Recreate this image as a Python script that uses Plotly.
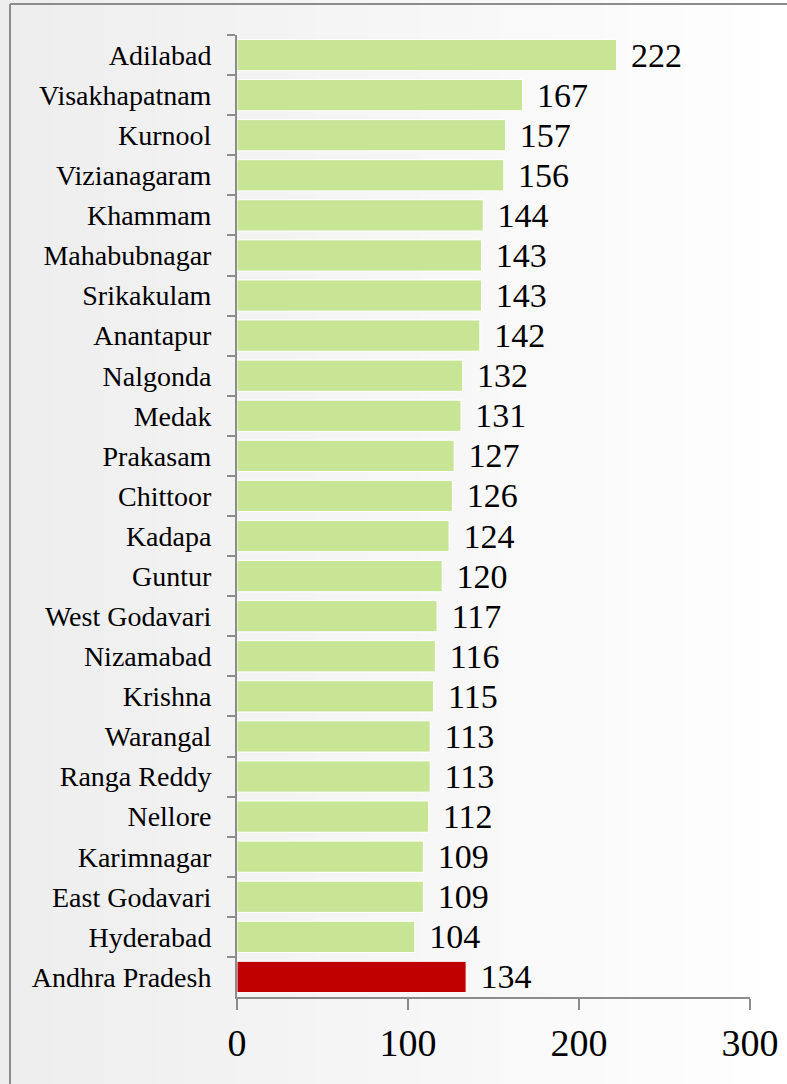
import plotly.graph_objects as go

districts = ["Adilabad", "Visakhapatnam", "Kurnool", "Vizianagaram", "Khammam",
             "Mahabubnagar", "Srikakulam", "Anantapur", "Nalgonda", "Medak",
             "Prakasam", "Chittoor", "Kadapa", "Guntur", "West Godavari",
             "Nizamabad", "Krishna", "Warangal", "Ranga Reddy", "Nellore",
             "Karimnagar", "East Godavari", "Hyderabad", "Andhra Pradesh"]
values = [222, 167, 157, 156, 144, 143, 143, 142, 132, 131, 127, 126, 124, 120,
          117, 116, 115, 113, 113, 112, 109, 109, 104, 134]
x_ticks = [0, 100, 200, 300]

GREEN = "#c7e595"
RED = "#c00000"
colors = [RED if d == "Andhra Pradesh" else GREEN for d in districts]

W, H = 787, 1084
ML, MR, MT, MB = 237, 37, 35, 87
pw = W - ML - MR
ph = H - MT - MB

fig = go.Figure()
fig.add_trace(go.Bar(
    y=districts, x=values, orientation="h",
    marker=dict(color=colors, line=dict(color="white", width=1)),
    width=0.78,
    text=["\u00a0\u200a" + str(v) for v in values],
    textposition="outside",
    constraintext="none",
    textfont=dict(family="Liberation Serif", size=34, color="black"),
    cliponaxis=False,
))

# background gradient strips and frame
shapes = []
n = 30
for i in range(n):
    x0 = i / n * W
    x1 = (i + 1) / n * W
    g = int(238 + (255 - 238) * (i / (n - 1)))
    shapes.append(dict(type="rect", xref="paper", yref="paper",
                       x0=(x0 - ML) / pw, x1=(x1 - ML + 1) / pw,
                       y0=-(MB) / ph, y1=(ph + MT) / ph,
                       fillcolor=f"rgb({g},{g},{g})", line=dict(width=0), layer="below"))
shapes.append(dict(type="line", xref="paper", yref="paper",
                   x0=(10 - ML) / pw, x1=(10 - ML) / pw,
                   y0=-(MB) / ph, y1=(ph + MT - 4) / ph,
                   line=dict(color="#8c8c8c", width=2)))
shapes.append(dict(type="line", xref="paper", yref="paper",
                   x0=(10 - ML) / pw, x1=(W - ML) / pw,
                   y0=(ph + MT - 4) / ph, y1=(ph + MT - 4) / ph,
                   line=dict(color="#8c8c8c", width=2)))

fig.update_layout(
    width=W, height=H,
    margin=dict(l=ML, r=MR, t=MT, b=MB, pad=0, autoexpand=False),
    paper_bgcolor="#f7f7f7",
    plot_bgcolor="rgba(0,0,0,0)",
    showlegend=False,
    shapes=shapes,
    font=dict(family="Liberation Serif", color="black"),
)
fig.update_xaxes(
    range=[0, 300], tickvals=x_ticks, ticktext=[str(t) for t in x_ticks],
    showgrid=False, zeroline=False, automargin=False,
    showline=True, linecolor="#8c8c8c", linewidth=2,
    ticks="outside", ticklen=11, tickcolor="#8c8c8c", tickwidth=2,
    tickfont=dict(family="Liberation Serif", size=38, color="black"),
    fixedrange=True,
)
fig.update_yaxes(
    categoryorder="array", categoryarray=districts, autorange="reversed",
    showgrid=False, zeroline=False, automargin=False,
    showline=True, linecolor="#8c8c8c", linewidth=2,
    ticks="outside", ticklen=8, tickcolor="#8c8c8c", tickwidth=2,
    tickson="boundaries",
    ticklabelstandoff=18,
    tickfont=dict(family="Liberation Serif", size=28, color="black"),
    fixedrange=True,
)

fig.write_html("out.html", config={"displayModeBar": False},
               post_script="document.body.style.margin='0';document.body.style.overflow='hidden';")
